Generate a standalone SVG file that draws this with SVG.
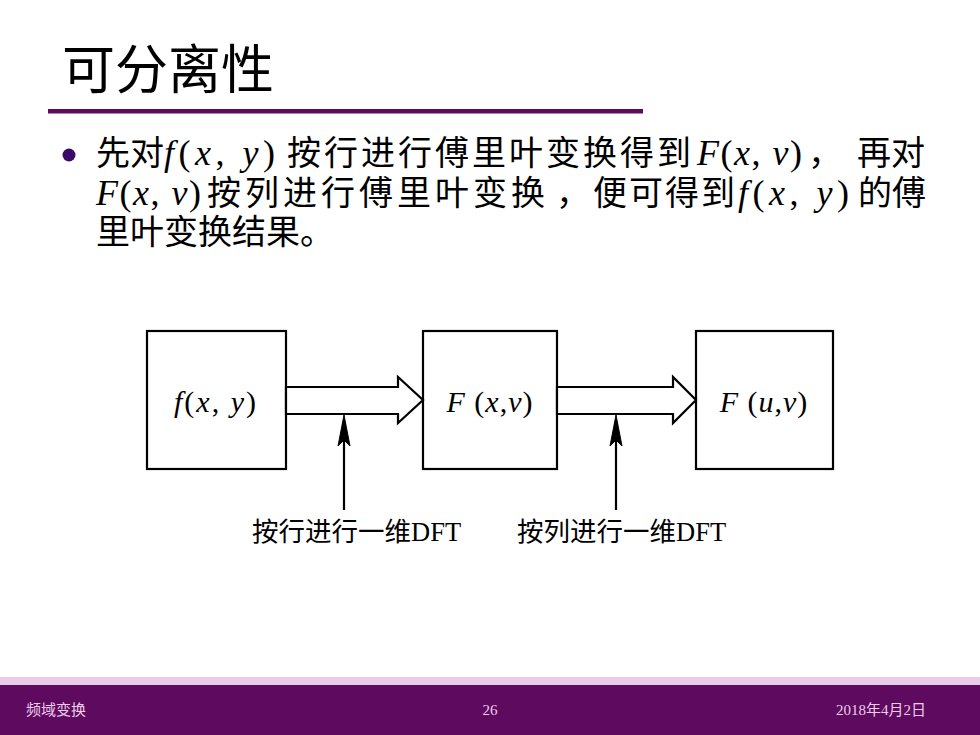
<svg xmlns="http://www.w3.org/2000/svg" width="980" height="735" viewBox="0 0 980 735">
<style>
.cjk{font-family:"Noto Sans CJK SC","Noto Sans",sans-serif;fill:#000}
.m{font-family:"Liberation Serif","DejaVu Serif",serif}
.i{font-style:italic}
.box{fill:#fff;stroke:#000;stroke-width:2.2}
.harrow{fill:#fff;stroke:#000;stroke-width:2.2;stroke-linejoin:miter}
.vline{stroke:#000;stroke-width:2.2;fill:none}
.foot{font-family:"Liberation Serif","Noto Sans CJK SC",serif;font-size:15px;fill:#EBCDEB}
</style>
<rect x="0" y="0" width="980" height="735" fill="#fff"/>
<text class="cjk" x="62" y="89" font-size="53">可分离性</text>
<rect x="48" y="109" width="595" height="4.5" fill="#5E0A5E"/>
<circle cx="69" cy="155" r="6.5" fill="#3A0A66"/>
<g font-size="34">
<text y="165"><tspan class="cjk" x="96">先对</tspan><tspan class="m" x="164" font-size="36" letter-spacing="4.5"><tspan class="i">f</tspan>(<tspan class="i">x</tspan>, <tspan class="i">y</tspan>)</tspan><tspan class="cjk" x="287" letter-spacing="3">按行进行傅里叶变换得到</tspan><tspan class="m" x="697" font-size="36" letter-spacing="1.5"><tspan class="i">F</tspan>(<tspan class="i">x</tspan>, <tspan class="i">v</tspan>)</tspan><tspan class="cjk" x="808">，</tspan><tspan class="cjk" x="857">再对</tspan></text>
<text y="205"><tspan class="m" x="96" font-size="36" letter-spacing="1.5"><tspan class="i">F</tspan>(<tspan class="i">x</tspan>, <tspan class="i">v</tspan>)</tspan><tspan class="cjk" x="207" letter-spacing="4">按列进行傅里叶变换</tspan><tspan class="cjk" x="556">，</tspan><tspan class="cjk" x="593" letter-spacing="2">便可得到</tspan><tspan class="m" x="738" font-size="36" letter-spacing="4.5"><tspan class="i">f</tspan>(<tspan class="i">x</tspan>, <tspan class="i">y</tspan>)</tspan><tspan class="cjk" x="858">的傅</tspan></text>
<text class="cjk" x="96" y="244">里叶变换结果。</text>
</g>
<g id="node-fxy">
<rect class="box" x="147" y="331" width="139" height="138"/>
<text class="m" x="216" y="412" font-size="30" letter-spacing="2" text-anchor="middle"><tspan class="i">f</tspan>(<tspan class="i">x</tspan>, <tspan class="i">y</tspan>)</text>
</g>
<g id="node-Fxv">
<rect class="box" x="423" y="331" width="134" height="138"/>
<text class="m" x="490" y="412" font-size="30" letter-spacing="1" text-anchor="middle"><tspan class="i">F</tspan> (<tspan class="i">x</tspan>,<tspan class="i">v</tspan>)</text>
</g>
<g id="node-Fuv">
<rect class="box" x="696" y="331" width="137" height="138"/>
<text class="m" x="764" y="412" font-size="30" letter-spacing="1" text-anchor="middle"><tspan class="i">F</tspan> (<tspan class="i">u</tspan>,<tspan class="i">v</tspan>)</text>
</g>
<g id="connectors">
<polygon class="harrow" points="286,387 398,387 398,377 423,400 398,423 398,414 286,414"/>
<polygon class="harrow" points="557,387 673,387 673,377 696,400 673,423 673,414 557,414"/>
<line class="vline" x1="344" y1="510" x2="344" y2="440"/>
<polygon points="344,415 350,446 344,440 338,446" fill="#000" stroke="#000" stroke-width="1"/>
<line class="vline" x1="616" y1="510" x2="616" y2="440"/>
<polygon points="616,415 622,446 616,440 610,446" fill="#000" stroke="#000" stroke-width="1"/>
</g>
<g id="label-row">
<text x="252" y="541" font-size="26.5"><tspan class="cjk">按行进行一维</tspan><tspan class="m" fill="#000">DFT</tspan></text>
</g>
<g id="label-col">
<text x="517" y="541" font-size="26.5"><tspan class="cjk">按列进行一维</tspan><tspan class="m" fill="#000">DFT</tspan></text>
</g>
<rect x="0" y="677" width="980" height="8" fill="#E8CCE8"/>
<rect x="0" y="685" width="980" height="50" fill="#5E0A5E"/>
<text class="foot" x="26" y="715">频域变换</text>
<text class="foot" x="490" y="715" text-anchor="middle">26</text>
<text class="foot" x="836" y="715">2018年4月2日</text>
</svg>
